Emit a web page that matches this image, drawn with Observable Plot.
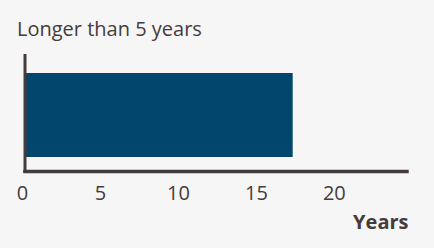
<!DOCTYPE html>
<html>
<head>
<meta charset="utf-8">
<script src="https://cdn.jsdelivr.net/npm/d3@7"></script>
<script src="https://cdn.jsdelivr.net/npm/@observablehq/plot@0.6"></script>
<style>
  html, body { margin: 0; padding: 0; background: #f6f6f6; width: 434px; height: 248px; overflow: hidden; }
  body { font-family: "Open Sans", sans-serif; color: #463b3c; }
  #title { height: 45px; box-sizing: border-box; padding: 16px 0 0 17px; font-size: 20px; line-height: 26px; white-space: nowrap; }
  svg { display: block; background: transparent; }
</style>
</head>
<body>
<div id="title">Longer than 5 years</div>
<div id="chart"></div>
<script>
const categories = ["Longer than 5 years"];
const values = [17.2];
const xTicks = [0, 5, 10, 15, 20];
const xLabel = "Years";

const data = categories.map((c, i) => ({category: c, value: values[i]}));
const ink = "#463b3c";

const chart = Plot.plot({
  width: 434,
  height: 203,
  marginLeft: 24.5,
  marginRight: 27.5,
  marginTop: 10,
  marginBottom: 77,
  style: {background: "transparent", fontFamily: "'Open Sans', sans-serif", color: ink},
  x: {domain: [0, 24.5], ticks: xTicks, label: null},
  y: {domain: categories, axis: null, paddingInner: 0, paddingOuter: 0.19},
  marks: [
    Plot.barX(data, {x: "value", y: "category", fill: "#00466d", insetLeft: 1.5, dy: 2}),
    Plot.axisX({ticks: xTicks, tickSize: 0, tickPadding: 14, label: null, fontSize: 20, fill: ink, dx: -2.5}),
    Plot.frame({anchor: "bottom", stroke: ink, strokeWidth: 3.5}),
    Plot.frame({anchor: "left", stroke: ink, strokeWidth: 3}),
    Plot.text([xLabel], {frameAnchor: "bottom-right", text: d => d, textAnchor: "end", lineAnchor: "top", dy: 43, dx: 1.5, fontSize: 20, fontWeight: "bold", fill: ink})
  ]
});
document.getElementById("chart").appendChild(chart);
</script>
</body>
</html>
